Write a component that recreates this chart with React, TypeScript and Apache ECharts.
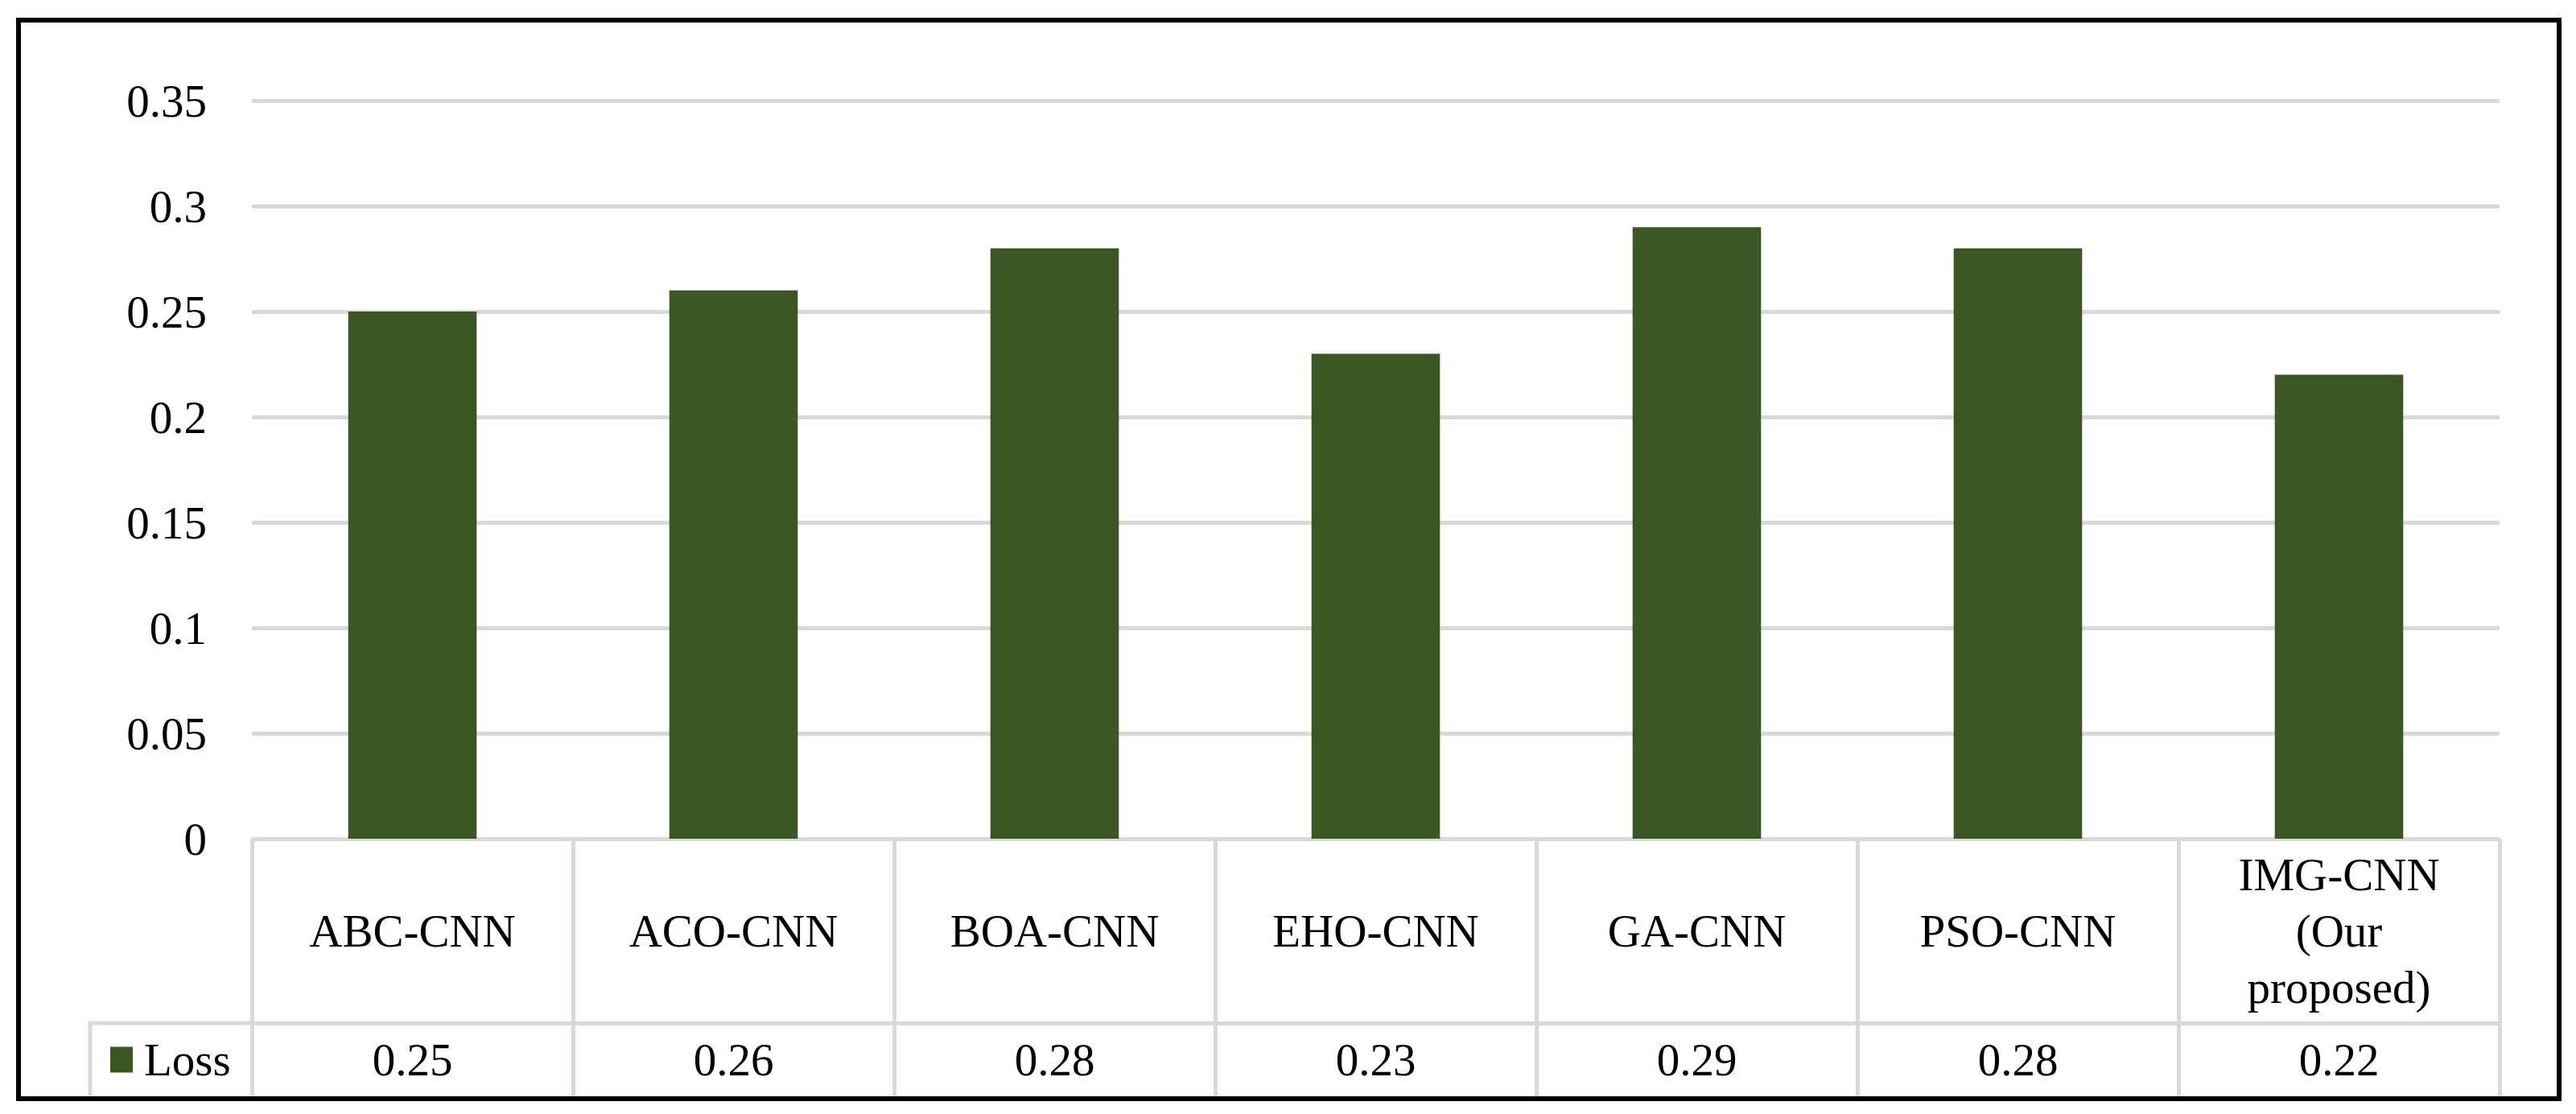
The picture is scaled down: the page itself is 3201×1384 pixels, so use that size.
import React, { useEffect, useRef } from "react";
import * as echarts from "echarts";

const categories = ["ABC-CNN", "ACO-CNN", "BOA-CNN", "EHO-CNN", "GA-CNN", "PSO-CNN", "IMG-CNN\n(Our\nproposed)"];
const lossValues = [0.25, 0.26, 0.28, 0.23, 0.29, 0.28, 0.22];
const seriesName = "Loss";
const yTicks = { min: 0, max: 0.35, interval: 0.05 };

const FONT = "'Liberation Serif', 'Times New Roman', serif";
const GRID_COLOR = "#D9D9D9";
const BAR_COLOR = "#3B5723";

export default function App() {
  const ref = useRef<HTMLDivElement>(null);
  useEffect(() => {
    if (!ref.current) return;
    const chart = echarts.init(ref.current, undefined, { renderer: "svg" });
    const W = 3201;
    const H = 1384;
    const left = 313;
    const right = W - 3106;
    const plotTop = 125;
    const zeroY = 1042;
    const rowY = 1271;
    const tableBottom = 1364;
    const legendLeft = 112;
    const textStyle = { fontFamily: FONT, fontSize: 57, color: "#000" };

    chart.setOption({
      animation: false,
      backgroundColor: "#fff",
      grid: [
        { left, right, top: plotTop, bottom: H - zeroY },
        { left, right, top: zeroY, bottom: H - rowY },
        { left, right, top: rowY, bottom: H - tableBottom },
      ],
      xAxis: [
        {
          type: "category",
          gridIndex: 0,
          data: categories,
          axisLine: { show: false },
          axisTick: { show: false },
          axisLabel: { show: false },
        },
        {
          type: "category",
          gridIndex: 1,
          data: categories,
          position: "bottom",
          axisLine: { show: true, lineStyle: { color: GRID_COLOR, width: 5 } },
          axisTick: { show: false },
          splitLine: { show: true, showMinLine: true, showMaxLine: true, lineStyle: { color: GRID_COLOR, width: 5 } },
          axisLabel: {
            interval: 0,
            margin: -(rowY - zeroY) / 2,
            verticalAlign: "middle",
            align: "center",
            lineHeight: 70,
            ...textStyle,
          },
        },
        {
          type: "category",
          gridIndex: 2,
          data: categories,
          position: "bottom",
          axisLine: { show: false },
          axisTick: { show: false },
          splitLine: { show: true, showMinLine: true, showMaxLine: true, lineStyle: { color: GRID_COLOR, width: 5 } },
          axisLabel: {
            interval: 0,
            margin: -(tableBottom - rowY) / 2 - 1,
            verticalAlign: "middle",
            align: "center",
            formatter: (_v: string, i: number) => lossValues[i].toFixed(2),
            ...textStyle,
          },
        },
      ],
      yAxis: [
        {
          type: "value",
          gridIndex: 0,
          min: yTicks.min,
          max: yTicks.max,
          interval: yTicks.interval,
          axisLine: { show: false },
          axisTick: { show: false },
          splitLine: { show: true, lineStyle: { color: GRID_COLOR, width: 5 } },
          axisLabel: {
            margin: 56,
            formatter: (v: number) => String(parseFloat(v.toFixed(2))),
            ...textStyle,
          },
        },
        { type: "value", gridIndex: 1, min: 0, max: 1, show: false },
        { type: "value", gridIndex: 2, min: 0, max: 1, show: false },
      ],
      legend: {
        data: [seriesName],
        left: 137,
        top: 1288,
        padding: 0,
        icon: "rect",
        itemWidth: 28,
        itemHeight: 32,
        textStyle: { ...textStyle, lineHeight: 57, padding: [0, 0, 0, 9] },
      },
      series: [
        {
          name: seriesName,
          type: "bar",
          xAxisIndex: 0,
          yAxisIndex: 0,
          data: lossValues,
          barWidth: "40%",
          itemStyle: { color: BAR_COLOR },
        },
      ],
      graphic: [
        {
          type: "line",
          shape: { x1: legendLeft, y1: rowY, x2: left, y2: rowY },
          style: { stroke: GRID_COLOR, lineWidth: 5 },
        },
        {
          type: "line",
          shape: { x1: legendLeft, y1: rowY - 2.5, x2: legendLeft, y2: tableBottom },
          style: { stroke: GRID_COLOR, lineWidth: 5 },
        },
        {
          type: "rect",
          shape: { x: 23, y: 25, width: 3157, height: 1340 },
          style: { fill: "none", stroke: "#000", lineWidth: 6 },
          z: 100,
        },
      ],
    });
    return () => chart.dispose();
  }, []);

  return (
    <div
      ref={ref}
      style={{ position: "absolute", left: 0, top: 0, width: 3201, height: 1384, background: "#fff" }}
    />
  );
}
